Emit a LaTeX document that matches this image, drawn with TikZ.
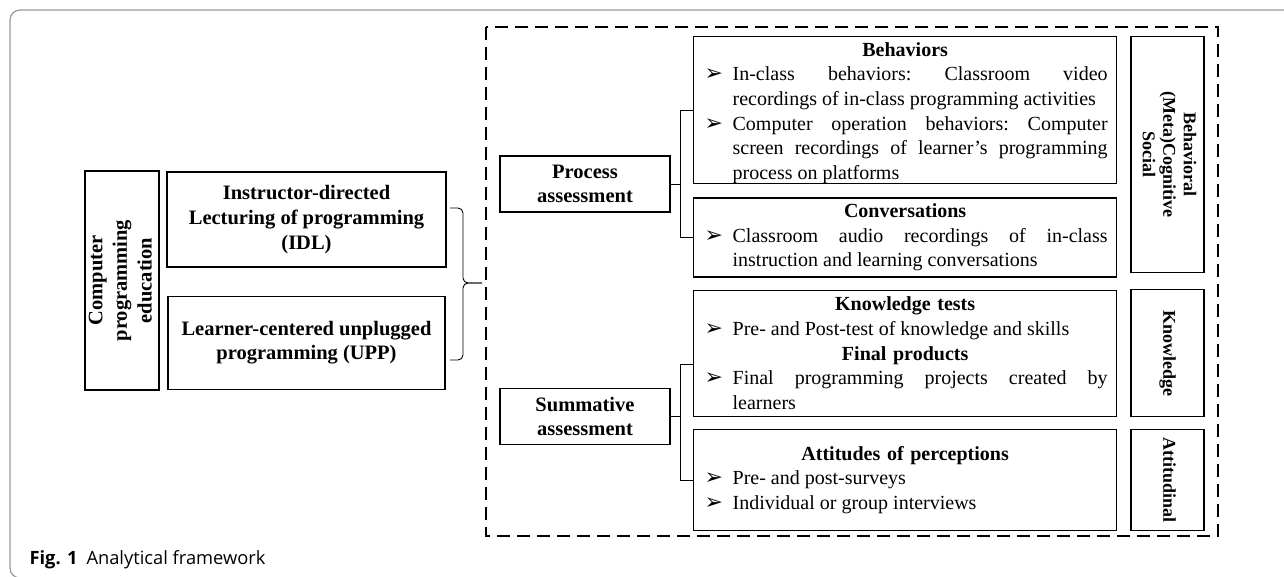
\documentclass[tikz,border=0pt]{standalone}
\usepackage{fontspec}
\setmainfont{Liberation Serif}
\newfontfamily\symfont{DejaVu Sans}
\newfontfamily\capfont{Open Sans}
\usepackage{graphicx}
\usepackage{tikz}
\usetikzlibrary{positioning}

\newcommand\bul{{\symfont\fontsize{22}{22}\selectfont ➢}}
\newcommand\bitem[1]{{\frenchspacing\leftskip=39pt\rightskip=9pt\spaceskip=0.25em plus 0.6em minus 0.08em\hyphenpenalty=10000\noindent\llap{\makebox[28pt][l]{\bul}}#1\par}}
\newcommand\btitle[1]{{\centering\bfseries #1\par}}
\newcommand\vtext[2]{\rotatebox{#1}{\begin{tabular}{@{}c@{}}#2\end{tabular}}}

\begin{document}
\begin{tikzpicture}[x=1pt, y=-1pt,
    every node/.style={font=\fontsize{20}{24.6}\selectfont},
    lbl/.style={draw, line width=1.3pt, inner sep=0pt, font=\fontsize{20.5}{24.6}\selectfont\bfseries},
    box/.style={lbl, align=center},
    midbox/.style={draw, line width=1.3pt, inner sep=0pt, text width=423pt},
    sidebox/.style={lbl, minimum width=73pt, font=\fontsize{18}{20.5}\selectfont\bfseries},
    link/.style={line width=0.9pt},
    brc/.style={line width=0.9pt, rounded corners=5pt},
    frame/.style={line width=1.8pt, dash pattern=on 13pt off 7pt},
]
\useasboundingbox (0,0) rectangle (1284,576);
\begin{scope}
\clip (0,0) rectangle (1284,576);
\draw[gray!80, line width=1.2pt, rounded corners=10pt] (10,10) rectangle (1320,578);
\end{scope}

% left part
\node[lbl, minimum width=70pt, minimum height=219pt] (cpe) at (122,280.5) {\vtext{90}{Computer\\programming\\education}};
\node[box, minimum width=279pt, minimum height=95pt] (idl) at (306.5,219.5) {Instructor-directed\\Lecturing of programming\\(IDL)};
\node[box, minimum width=277pt, minimum height=93pt, below=28pt of idl] (upp) {Learner-centered unplugged\\programming (UPP)};
\coordinate (bt) at (450,208);
\coordinate (bb) at (450,360);
\coordinate (bm) at (482,283);
\draw[brc] (bt) -- (463,208) -- (463,283) -- (bm);
\draw[brc] (bb) -- (463,360) -- (463,283) -- (bm);

% assessment
\draw[frame] (486,27) rectangle (1218,536);
\node[box, minimum width=170pt, minimum height=56pt] (pa) at (585,184) {Process\\assessment};
\node[box, minimum width=170pt, minimum height=56pt, below=175pt of pa] (sa) {Summative\\assessment};

\node[midbox, minimum height=147pt, anchor=north west] (beh) at (693,36) {%
  \btitle{\rule{0pt}{19.6pt}Behaviors}
  \bitem{In-class behaviors: Classroom video\linebreak recordings of in-class programming activities}
  \bitem{Computer operation behaviors: Computer\linebreak screen recordings of learner’s programming\linebreak process on platforms}};
\node[midbox, minimum height=79pt, below=13pt of beh] (conv) {%
  \btitle{Conversations}
  \bitem{Classroom audio recordings of in-class\linebreak instruction and learning conversations}};
\node[midbox, minimum height=126pt, below=12pt of conv] (kt) {%
  \btitle{Knowledge tests}
  \bitem{Pre- and Post-test of knowledge and skills}
  \btitle{Final products}
  \bitem{Final programming projects created by\linebreak learners}};
\node[midbox, minimum height=101pt, below=12pt of kt] (att) {%
  \btitle{Attitudes of perceptions}
  \bitem{Pre- and post-surveys}
  \bitem{Individual or group interviews}};

\node[sidebox, minimum height=236pt, right=13pt of beh.north east, anchor=north west] (rbeh) {\vtext{-90}{Behavioral\\(Meta)Cognitive\\Social}};
\node[sidebox, minimum height=127pt, right=13pt of kt] (rkn) {\vtext{-90}{Knowledge}};
\node[sidebox, minimum height=101pt, right=13pt of att] (rat) {\vtext{-90}{Attitudinal}};

\draw[link] (pa.east) -- ++(9.5,0) coordinate (pj);
\draw[link] (beh.west) -| (pj) |- (conv.west);
\draw[link] (sa.east) -- ++(9.5,0) coordinate (sj);
\draw[link] ([yshift=-11pt]kt.west) -| (sj) |- (att.west);

\node[anchor=base west, font=\capfont\fontsize{18.3}{20}\selectfont] (cap) at (26,564) {\textbf{Fig. 1}\hspace{9pt}Analytical framework};
\end{tikzpicture}
\end{document}
